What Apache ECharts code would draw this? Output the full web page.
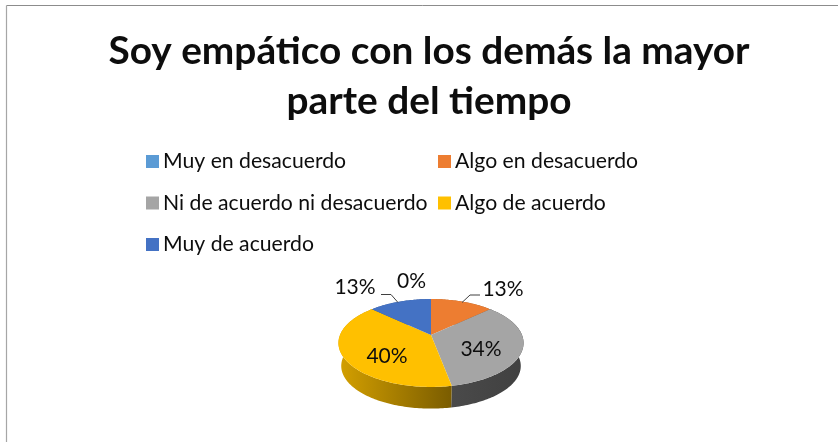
<!DOCTYPE html>
<html>
<head>
<meta charset="utf-8">
<style>html,body{margin:0;padding:0;background:#fff}#c{width:838px;height:442px}</style>
<script src="https://cdn.jsdelivr.net/npm/echarts@6/dist/echarts.min.js"></script>
</head>
<body>
<div id="c"></div>
<script>
var categories = ['Muy en desacuerdo','Algo en desacuerdo','Ni de acuerdo ni desacuerdo','Algo de acuerdo','Muy de acuerdo'];
var values = [0,13,34,40,13];
var colors = ['#5B9BD5','#ED7D31','#A5A5A5','#FFC000','#4472C4'];
var valueLabels = ['0%','13%','34%','40%','13%'];
var labelPos = [[411.5,281],[503,289],[481,349],[387,356.5],[355,287]];
var leaders = [null,[[462,302.5],[470,295],[480,295]],null,null,[[398,302.5],[391,294.5],[381,294.5]]];
var sideStops = [
  null,
  [['#b85f20','#8a4a18']],
  [['#4a4a4a','#404040']],
  [['#d4a000','#7a5c00']],
  [['#33558f','#33558f']]
];
var legendPos = [[146,151],[438,151],[146,192.5],[438,192.5],[146,234]];

var APEX_X=431, APEX_Y=335, B=91, A=42.5, K=0.1818, DEPTH_Y=358.2, SHRINK=0.97;
function pt(angle, scale, oy){
  var X=Math.sin(angle), Y=-Math.cos(angle), w=1-K*Y;
  return [APEX_X+scale*B*X/w, oy+scale*A*Y/w];
}
function arc(a0,a1,scale,oy){
  var n=Math.max(2,Math.ceil(Math.abs(a1-a0)/0.02)), r=[];
  for(var i=0;i<=n;i++) r.push(pt(a0+(a1-a0)*i/n,scale,oy));
  return r;
}
var total=values.reduce(function(a,b){return a+b;},0);
var cum=[0];
values.forEach(function(v,i){cum.push(cum[i]+v);});

function renderItem(idx){
  return function(){
    var a0=cum[idx]/total*Math.PI*2, a1=cum[idx+1]/total*Math.PI*2;
    var children=[];
    if(values[idx]>0){
      var topArc=arc(a0,a1,1,APEX_Y);
      var botArc=arc(a1,a0,SHRINK,DEPTH_Y);
      var s=sideStops[idx][0];
      children.push({type:'polygon',z2:1,shape:{points:topArc.concat(botArc)},
        style:{fill:new echarts.graphic.LinearGradient(0,0,1,0,[{offset:0,color:s[0]},{offset:1,color:s[1]}])}});
      children.push({type:'polygon',z2:5,shape:{points:[[APEX_X,APEX_Y]].concat(topArc)},style:{fill:colors[idx]}});
    }
    if(leaders[idx]) children.push({type:'polyline',z2:8,shape:{points:leaders[idx]},style:{fill:null,stroke:'#404040',lineWidth:1}});
    children.push({type:'text',z2:10,x:labelPos[idx][0],y:labelPos[idx][1],
      style:{text:valueLabels[idx],fill:'#0d0d0d',font:'21px Lato, sans-serif',align:'center',verticalAlign:'middle'}});
    return {type:'group',children:children};
  };
}
var chart=echarts.init(document.getElementById('c'),null,{renderer:'canvas'});
chart.setOption({
  animation:false,
  backgroundColor:'#fff',
  title:{text:'Soy empático con los demás la mayor\nparte del tiempo',left:424,top:21,textAlign:'center',
    textStyle:{fontFamily:'Lato, sans-serif',fontWeight:'bold',fontSize:38.8,lineHeight:50,color:'#0d0d0d'}},
  legend:categories.map(function(c,i){return {
    data:[c],left:legendPos[i][0],top:legendPos[i][1],icon:'rect',itemWidth:13,itemHeight:13,itemGap:0,padding:0,
    selectedMode:false,
    textStyle:{fontFamily:'Lato, sans-serif',fontSize:21.2,color:'#0d0d0d',padding:[0,0,0,-1]}
  };}),
  xAxis:{show:false,min:0,max:1},
  yAxis:{show:false,min:0,max:1},
  grid:{left:0,right:0,top:0,bottom:0},
  graphic:[
    {type:'line',shape:{x1:6.5,y1:5.5,x2:838,y2:5.5},style:{stroke:'#8c8c8c',lineWidth:1}},
    {type:'line',shape:{x1:6.5,y1:5.5,x2:6.5,y2:442},style:{stroke:'#a6a6a6',lineWidth:1.2}}
  ],
  series:categories.map(function(c,i){return {
    type:'custom',name:c,coordinateSystem:'none',silent:true,
    itemStyle:{color:colors[i]},
    data:[[values[i]]],
    renderItem:renderItem(i)
  };})
});
</script>
</body>
</html>
